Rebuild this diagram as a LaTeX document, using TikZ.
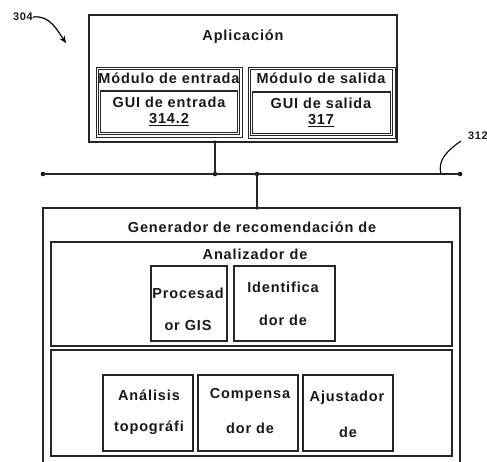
\documentclass[tikz,border=0pt]{standalone}
\usepackage{fontspec}
\setmainfont{Liberation Sans}[LetterSpace=6]
\usetikzlibrary{arrows.meta}
\begin{document}
\begin{tikzpicture}[x=1pt,y=-1pt,
  box/.style={draw=black!85, line width=1.1pt},
  thin/.style={draw=black!85, line width=0.9pt},
  txt/.style={font=\fontsize{14.5}{17}\selectfont\bfseries, text=black!90, inner sep=0pt},
  num/.style={font=\fontsize{11}{13}\selectfont\bfseries, text=black!90, inner sep=0pt},
  dot/.style={circle, fill=black, inner sep=0pt, minimum size=4.5pt},
  wire/.style={draw=black!85, line width=1.3pt}]
\useasboundingbox (0,0) rectangle (487,461);
% Application
\draw[box] (89,15) rectangle (397,142);
\node[txt] (aplic) at (243,37) {Aplicación};
\draw[thin] (96,67) rectangle (242,137);
\draw[thin] (98.3,69.3) rectangle (239.7,134.7);
\node[txt] (modin) at (169,78) {Módulo de entrada};
\draw[box] (100.5,91) rectangle (237.5,132.5);
\node[txt] (guiin) at (169,102) {GUI de entrada};
\node[txt] (n3142) at (169,120) {\underline{314.2}};
\draw[thin] (248,67) rectangle (395,138);
\draw[thin] (250.3,69.3) rectangle (392.7,135.7);
\node[txt] (modout) at (321,78) {Módulo de salida};
\draw[box] (252.5,92) rectangle (390.5,133.5);
\node[txt] (guiout) at (321,103) {GUI de salida};
\node[txt] (n317) at (321,121) {\underline{317}};
% bus
\node[dot] (b1) at (43,174) {};
\node[dot] (b2) at (215,174) {};
\node[dot] (b3) at (257,174) {};
\node[dot] (b4) at (460,174) {};
\node[dot, minimum size=3.5pt] (a1) at (215,142) {};
\node[dot, minimum size=3.5pt] (g1) at (257,208) {};
\draw[wire] (b1.center) -- (b2.center) -- (b3.center) -- (b4.center);
\draw[wire] (a1.center) -- (b2.center);
\draw[wire] (b3.center) -- (g1.center);
% labels
\node[num] (l304) at (23,17) {304};
\coordinate (a304) at (66,43);
\draw[line width=1.2pt, -{Stealth[length=7pt,width=6pt]}] (l304.east) .. controls (50,15) and (57,30) .. (a304);
\node[num] (l312) at (478,136) {312};
\coordinate (c312) at (441,174);
\draw[line width=1.1pt] (c312) .. controls (437,160) and (448,150) .. (461,141);
% generator
\draw[box] (43,208) rectangle (460,475);
\node[txt] (gen) at (252,227) {Generador de recomendación de};
\draw[box] (51,242) rectangle (452,346);
\node[txt] (ana) at (255,254) {Analizador de};
\draw[box] (151,266) rectangle (227,341);
\node[txt] (gis1) at (188,293) {Procesad};
\node[txt] (gis2) at (188,326) {or GIS};
\draw[box] (234,266) rectangle (335,341);
\node[txt] (id1) at (283,287) {Identifica};
\node[txt] (id2) at (283,320) {dor de};
\draw[box] (51,350) rectangle (452,456);
\draw[box] (103,375) rectangle (193,451);
\node[txt] (to1) at (149,395) {Análisis};
\node[txt] (to2) at (149,428) {topográfi};
\draw[box] (198,375) rectangle (298,451);
\node[txt] (co1) at (250,395) {Compensa};
\node[txt] (co2) at (250,428) {dor de};
\draw[box] (303,375) rectangle (393,451);
\node[txt] (aj1) at (347,398) {Ajustador};
\node[txt] (aj2) at (348,432) {de};
\end{tikzpicture}
\end{document}
